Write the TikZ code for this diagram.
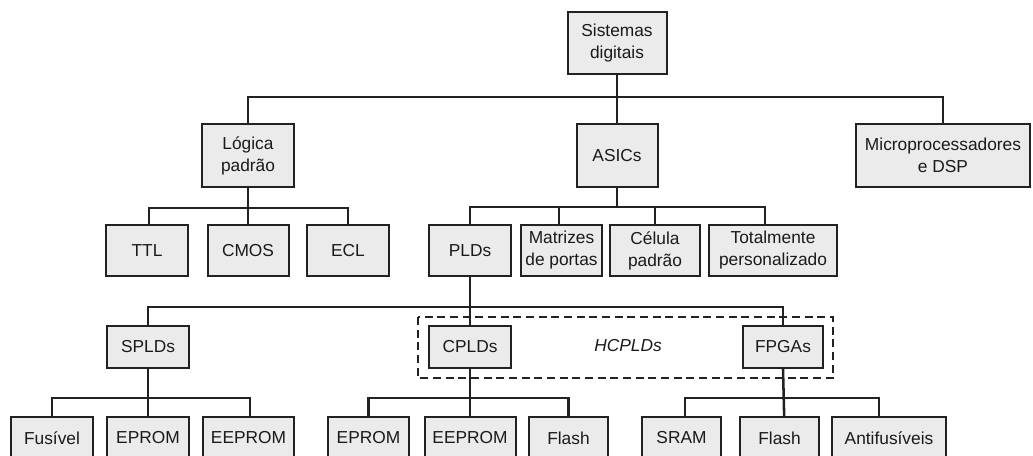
\documentclass[tikz,border=0pt]{standalone}
\usepackage{fontspec}
\setmainfont{Liberation Sans}
\begin{document}
\begin{tikzpicture}[x=0.75pt,y=-0.75pt,
  bx/.style 2 args={draw=linegray, fill=boxgray, line width=1.5pt, rectangle,
    inner sep=0pt, align=center, text=textgray,
    font=\fontsize{13}{16.5}\selectfont,
    minimum width=#1*0.75pt, minimum height=#2*0.75pt},
  link/.style={draw=linegray, line width=1.9pt},
  group/.style={draw=linegray, line width=1.1pt, dash pattern=on 6pt off 3.5pt}]
\definecolor{boxgray}{HTML}{EBEBEB}
\definecolor{linegray}{HTML}{222222}
\definecolor{textgray}{HTML}{1A1A1A}
\useasboundingbox (0,0) rectangle (1033,455);
\clip (0,0) rectangle (1033,455);

% level 0 and 1
\node[bx={99}{62}]  (sis)   at (617,43)     {Sistemas\\digitais};
\node[bx={92}{63}]  (log)   at (248,155.5)  {Lógica\\padrão};
\node[bx={81}{63}]  (asic)  at (617,155.5)  {ASICs};
\node[bx={174}{63}] (micro) at (943,155.5)  {Microprocessadores\\e DSP};

% level 2
\node[bx={82}{51}]  (ttl)   at (147,250.5)  {TTL};
\node[bx={81}{51}]  (cmos)  at (248,250.5)  {CMOS};
\node[bx={82}{51}]  (ecl)   at (348,250.5)  {ECL};
\node[bx={82}{51}]  (plds)  at (470,250.5)  {PLDs};
\node[bx={81}{51}]  (matr)  at (561.5,250.5){Matrizes\\de portas};
\node[bx={90}{51}]  (cel)   at (655,250.5)  {Célula\\padrão};
\node[bx={128}{51}] (tot)   at (773,250.5)  {Totalmente\\personalizado};

% level 3 with the high-capacity group
\draw[group] (418,317) rectangle (833,378);
\node[bx={82}{42}]  (splds) at (148,347)    {SPLDs};
\node[bx={82}{42}]  (cplds) at (470,347)    {CPLDs};
\node[bx={80}{42}]  (fpgas) at (783,347)    {FPGAs};
\node[text=textgray, font=\fontsize{13}{16.5}\selectfont\itshape] (hc) at (628,346) {HCPLDs};

% level 4
\node[bx={82}{42}]  (fus)   at (52,438)     {Fusível};
\node[bx={82}{42}]  (ep1)   at (148,438)    {EPROM};
\node[bx={91}{42}]  (eep1)  at (248.5,438)  {EEPROM};
\node[bx={81}{42}]  (ep2)   at (368.5,438)  {EPROM};
\node[bx={91}{42}]  (eep2)  at (470,438)    {EEPROM};
\node[bx={79}{42}]  (fl1)   at (568.5,438)  {Flash};
\node[bx={79}{42}]  (sram)  at (681.5,438)  {SRAM};
\node[bx={79}{42}]  (fl2)   at (779.5,438)  {Flash};
\node[bx={114}{42}] (anti)  at (889,438)    {Antifusíveis};

% tree connectors
\draw[link] (sis.south) -- (asic.north);
\draw[link] (sis.south) ++(0,22) -| (log.north);
\draw[link] (sis.south) ++(0,22) -| (micro.north);

\draw[link] (log.south) -- (cmos.north);
\draw[link] (log.south) ++(0,20) -| ([xshift=1.5pt]ttl.north);
\draw[link] (log.south) ++(0,20) -| (ecl.north);

\draw[link] (asic.south) ++(0,19) -| (plds.north);
\draw[link] (asic.south) ++(0,19) -| ([xshift=-2pt]matr.north);
\draw[link] (asic.south) ++(0,19) -| (cel.north);
\draw[link] (asic.south) ++(0,19) -| ([xshift=-6pt]tot.north);
\draw[link] (asic.south) -- ++(0,19);

\draw[link] (plds.south) -- (cplds.north);
\draw[link] (plds.south) ++(0,30) -| (splds.north);
\draw[link] (plds.south) ++(0,30) -| (fpgas.north);

\draw[link] (splds.south) -- (ep1.north);
\draw[link] (splds.south) ++(0,29) -| (fus.north);
\draw[link] (splds.south) ++(0,29) -| ([xshift=1pt]eep1.north);

\draw[link] (cplds.south) -- (eep2.north);
\draw[link] (cplds.south) ++(0,29) -| (ep2.north);
\draw[link] (cplds.south) ++(0,29) -| (fl1.north);

\draw[link] (fpgas.south) -- ([xshift=3.5pt]fl2.north);
\draw[link] (fpgas.south) ++(0,29) -| ([xshift=2.5pt]sram.north);
\draw[link] (fpgas.south) ++(0,29) -| ([xshift=-7.5pt]anti.north);
\end{tikzpicture}
\end{document}
